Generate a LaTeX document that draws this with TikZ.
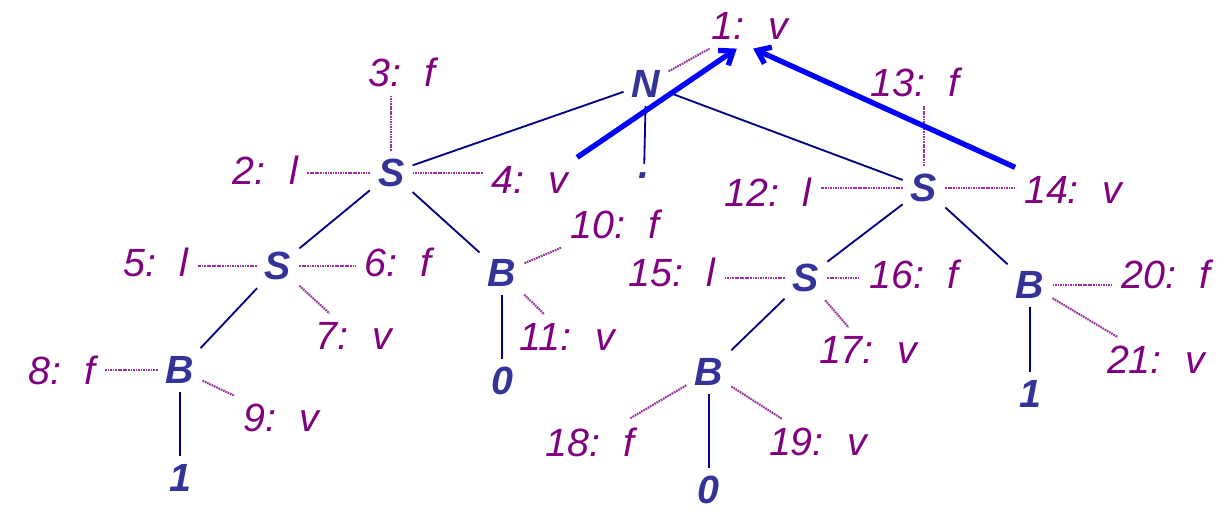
\documentclass[tikz,border=0pt]{standalone}
\usepackage{fontspec}
\setmainfont{Liberation Sans}
\usetikzlibrary{arrows.meta}
\definecolor{symblue}{RGB}{51,51,153}
\definecolor{attrpurple}{RGB}{128,0,128}
\definecolor{branchnavy}{RGB}{0,0,128}
\definecolor{linkpurple}{RGB}{153,51,153}
\definecolor{ptrblue}{RGB}{0,0,255}
\newcommand{\attrtxt}[2]{#1:\hspace{0.6em}#2}

\begin{document}
\begin{tikzpicture}[
    every node/.style={font=\fontsize{28}{30}\selectfont\itshape},
    sym/.style={text=symblue, font=\fontsize{28}{30}\selectfont\bfseries\itshape,
        inner sep=0.2cm},
    attr/.style={text=attrpurple, inner sep=0.22cm},
    branch/.style={draw=branchnavy, line width=1.3pt},
    attrline/.style={draw=linkpurple, line width=1.5pt,
        dash pattern=on 1.2pt off 0.6pt},
    ptr/.style={draw=ptrblue, line width=3.8pt,
        -{Straight Barb[length=0.3cm,width=0.45cm]}}
]
\useasboundingbox (0,0) rectangle (30.75,12.8);
\node[sym] (N)   at (16.15,10.70) {N};
\node[sym] (dot) at (16.10, 8.42) {.};
\node[sym] (S1)  at ( 9.78, 8.48) {S};
\node[sym] (S2)  at ( 6.95, 6.15) {S};
\node[sym] (B1)  at ( 4.50, 3.55) {B};
\node[sym] (one1)  at ( 4.50, 0.85) {1};
\node[sym] (B2)  at (12.55, 5.98) {B};
\node[sym] (zero1) at (12.55, 3.28) {0};
\node[sym] (S3)  at (23.10, 8.10) {S};
\node[sym] (S4)  at (20.15, 5.85) {S};
\node[sym] (B3)  at (17.72, 3.50) {B};
\node[sym] (zero2) at (17.72, 0.55) {0};
\node[sym] (B4)  at (25.75, 5.68) {B};
\node[sym] (one2)  at (25.75, 2.95) {1};
\node[attr] (l1)  at (18.75,12.15) {\attrtxt{1}{v}};
\node[attr] (l2)  at ( 6.63, 8.55) {\attrtxt{2}{l}};
\node[attr] (l3)  at (10.05,10.98) {\attrtxt{3}{f}};
\node[attr] (l4)  at (13.25, 8.30) {\attrtxt{4}{v}};
\node[attr] (l5)  at ( 3.90, 6.25) {\attrtxt{5}{l}};
\node[attr] (l6)  at ( 9.95, 6.23) {\attrtxt{6}{f}};
\node[attr] (l7)  at ( 8.85, 4.40) {\attrtxt{7}{v}};
\node[attr] (l8)  at ( 1.55, 3.55) {\attrtxt{8}{f}};
\node[attr] (l9)  at ( 7.03, 2.35) {\attrtxt{9}{v}};
\node[attr] (l10) at (15.38, 7.18) {\attrtxt{10}{f}};
\node[attr] (l11) at (14.18, 4.38) {\attrtxt{11}{v}};
\node[attr] (l12) at (19.20, 8.00) {\attrtxt{12}{l}};
\node[attr] (l13) at (22.88,10.73) {\attrtxt{13}{f}};
\node[attr] (l14) at (26.83, 8.05) {\attrtxt{14}{v}};
\node[attr] (l15) at (16.80, 5.98) {\attrtxt{15}{l}};
\node[attr] (l16) at (22.85, 5.93) {\attrtxt{16}{f}};
\node[attr] (l17) at (21.70, 4.05) {\attrtxt{17}{v}};
\node[attr] (l18) at (14.75, 1.75) {\attrtxt{18}{f}};
\node[attr] (l19) at (20.45, 1.75) {\attrtxt{19}{v}};
\node[attr] (l20) at (29.15, 5.93) {\attrtxt{20}{f}};
\node[attr] (l21) at (28.90, 3.80) {\attrtxt{21}{v}};
\draw[branch] (N) -- (S1);
\draw[branch] (N) -- (dot);
\draw[branch] (N) -- (S3);
\draw[branch] (S1) -- (S2);
\draw[branch] (S1) -- (B2);
\draw[branch] (S2) -- (B1);
\draw[branch] (B1) -- (one1);
\draw[branch] (B2) -- (zero1);
\draw[branch] (S3) -- (S4);
\draw[branch] (S3) -- (B4);
\draw[branch] (S4) -- (B3);
\draw[branch] (B3) -- (zero2);
\draw[branch] (B4) -- (one2);
\draw[attrline] (N) -- (l1);
\draw[attrline] (S1.west) -- (S1.west -| l2.east);
\draw[attrline] (S1.north) -- (S1.north |- l3.south);
\draw[attrline] (S1.east) -- (S1.east -| l4.west);
\draw[attrline] (S2.west) -- (S2.west -| l5.east);
\draw[attrline] (S2.east) -- (S2.east -| l6.west);
\draw[attrline] (S2) -- (l7);
\draw[attrline] (B1.west) -- (B1.west -| l8.east);
\draw[attrline] (B1) -- (l9);
\draw[attrline] (B2) -- (l10);
\draw[attrline] (B2) -- (l11);
\draw[attrline] (S3.west) -- (S3.west -| l12.east);
\draw[attrline] (S3.north) -- (S3.north |- l13.south);
\draw[attrline] (S3.east) -- (S3.east -| l14.west);
\draw[attrline] (S4.west) -- (S4.west -| l15.east);
\draw[attrline] (S4.east) -- (S4.east -| l16.west);
\draw[attrline] (S4) -- (l17);
\draw[attrline] (B3) -- (l18);
\draw[attrline] (B3) -- (l19);
\draw[attrline] (B4.east) -- (B4.east -| l20.west);
\draw[attrline] (B4) -- (l21);
\draw[ptr] (l4.north east) -- ([xshift=-0.33cm]l1.south);
\draw[ptr] (l14.north west) -- ([xshift=0.08cm]l1.south);
\end{tikzpicture}
\end{document}
